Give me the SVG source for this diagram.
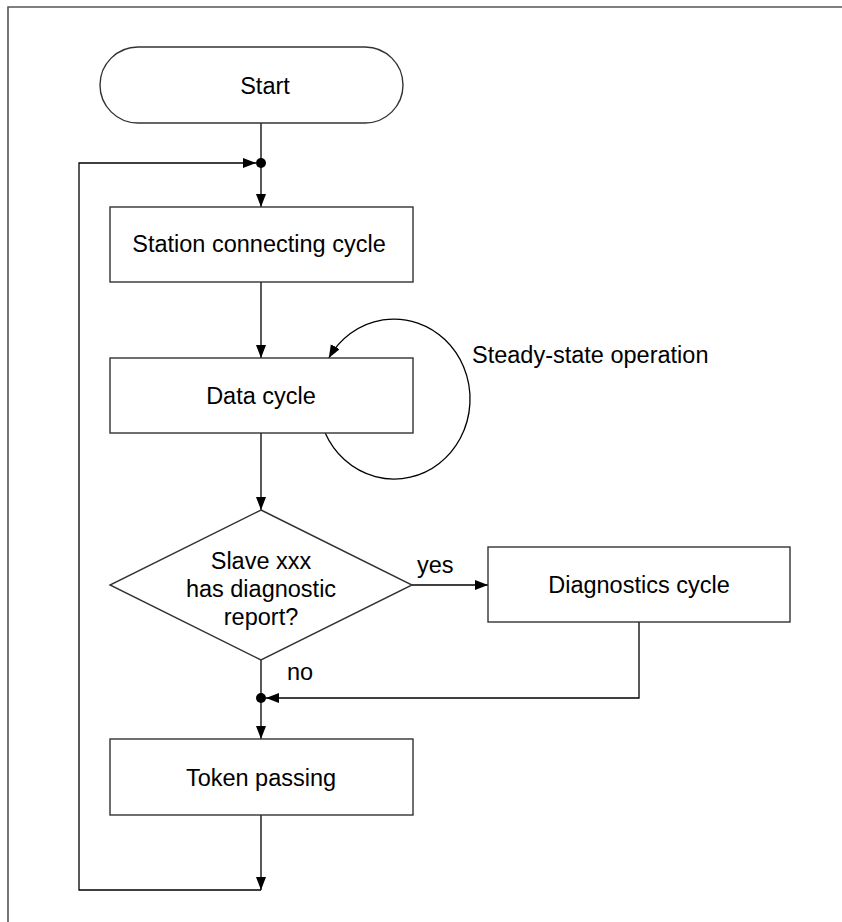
<svg xmlns="http://www.w3.org/2000/svg" width="842" height="922" viewBox="0 0 842 922">
  <style>
    .box { fill: #fff; stroke: #333; stroke-width: 1.4; }
    .lbl { font-family: "Liberation Sans", Arial, sans-serif; font-size: 23.5px; fill: #000; }
    .mid { text-anchor: middle; }
    .ln { fill: none; stroke: #000; stroke-width: 1.3; }
    .arr { marker-end: url(#ah); }
  </style>
  <defs>
    <marker id="ah" markerUnits="userSpaceOnUse" markerWidth="14" markerHeight="11" refX="13" refY="5" orient="auto">
      <path d="M0,0 L13,5 L0,10 z" fill="#000"/>
    </marker>
  </defs>
  <rect width="842" height="922" fill="#fff"/>
  <path d="M8,922 V7 H842" fill="none" stroke="#555" stroke-width="1.6"/>

  <g id="connectors">
    <path class="ln" d="M261,123 V163"/>
    <path class="ln arr" d="M261,163 V207"/>
    <path class="ln arr" d="M261,282 V358"/>
    <path class="ln arr" d="M261,433 V510"/>
    <path class="ln arr" d="M412,585 H488"/>
    <path class="ln" d="M261,660 V698"/>
    <path class="ln arr" d="M639,622 V698 H266"/>
    <path class="ln arr" d="M261,698 V739"/>
    <path class="ln arr" d="M261,815 V890"/>
    <path class="ln arr" d="M261,890 H79 V163 H256"/>
    <path class="ln arr" d="M325.2,433 A76,80 0 1 0 328.8,358"/>
    <circle cx="261" cy="163" r="5" fill="#000"/>
    <circle cx="261" cy="698" r="5" fill="#000"/>
    <text class="lbl" x="417" y="573">yes</text>
    <text class="lbl" x="287" y="680">no</text>
    <text class="lbl" x="472" y="363">Steady-state operation</text>
  </g>

  <g id="start">
    <rect class="box" x="100" y="47" width="303" height="76" rx="38" ry="38"/>
    <text class="lbl mid" x="265" y="94">Start</text>
  </g>
  <g id="station">
    <rect class="box" x="110" y="207" width="303" height="75"/>
    <text class="lbl mid" x="259" y="252">Station connecting cycle</text>
  </g>
  <g id="data">
    <rect class="box" x="110" y="358" width="303" height="75"/>
    <text class="lbl mid" x="261" y="404">Data cycle</text>
  </g>
  <g id="decision">
    <polygon class="box" points="261,510 412,585 261,660 110,585"/>
    <text class="lbl mid" x="261" y="569">Slave xxx</text>
    <text class="lbl mid" x="261" y="597">has diagnostic</text>
    <text class="lbl mid" x="261" y="625">report?</text>
  </g>
  <g id="diagnostics">
    <rect class="box" x="488" y="547" width="302" height="75"/>
    <text class="lbl mid" x="639" y="593">Diagnostics cycle</text>
  </g>
  <g id="token">
    <rect class="box" x="110" y="739" width="303" height="76"/>
    <text class="lbl mid" x="261" y="786">Token passing</text>
  </g>
</svg>
